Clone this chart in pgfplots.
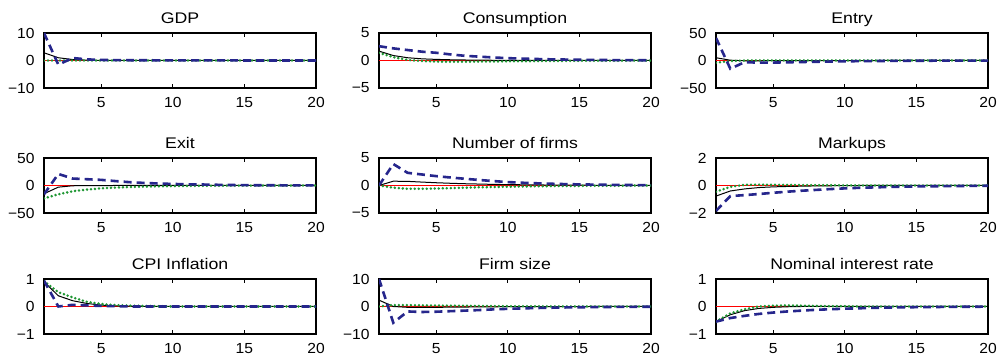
\documentclass[border=0pt]{standalone}
\usepackage{fontspec}
\setmainfont{Liberation Sans}
\newfontfamily\titlefont[FakeStretch=1.15]{Liberation Sans}
\newfontfamily\tickfont[FakeStretch=1.07]{Liberation Sans}
\usepackage{pgfplots}
\usepackage{pgfplotstable}
\pgfplotsset{compat=1.18}
\definecolor{mred}{RGB}{255,0,0}
\definecolor{mgreen}{RGB}{30,150,50}
\definecolor{mblue}{RGB}{38,38,140}

\pgfplotstableread{
x r k g b
1 0 2.8 0 10
2 0 1.0 0 -1.5
3 0 0.35 0 0.9
4 0 0.12 0 0.4
5 0 0.05 0 0.2
6 0 0.02 0 0.15
7 0 0.01 0 0.1
8 0 0 0 0.08
9 0 0 0 0.06
10 0 0 0 0.05
11 0 0 0 0.04
12 0 0 0 0.03
13 0 0 0 0.02
14 0 0 0 0.02
15 0 0 0 0.01
16 0 0 0 0.01
17 0 0 0 0
18 0 0 0 0
19 0 0 0 0
20 0 0 0 0
}\tGDP

\pgfplotstableread{
x r k g b
1 0 1.7 1.4 2.6
2 0 0.9 0.6 2.2
3 0 0.5 0.1 1.9
4 0 0.3 -0.1 1.6
5 0 0.2 -0.2 1.4
6 0 0.13 -0.22 1.1
7 0 0.09 -0.22 0.85
8 0 0.06 -0.2 0.7
9 0 0.04 -0.18 0.55
10 0 0.03 -0.15 0.42
11 0 0.02 -0.13 0.34
12 0 0.01 -0.11 0.27
13 0 0.01 -0.09 0.21
14 0 0 -0.07 0.17
15 0 0 -0.06 0.13
16 0 0 -0.05 0.1
17 0 0 -0.04 0.08
18 0 0 -0.03 0.06
19 0 0 -0.02 0.05
20 0 0 -0.02 0.04
}\tCons

\pgfplotstableread{
x r k g b
1 0 5 -4 41
2 0 0.5 -1 -15
3 0 -0.5 0 -3
4 0 -0.5 0.2 -4
5 0 -0.4 0.2 -3.8
6 0 -0.3 0.2 -3.3
7 0 -0.2 0.1 -2.8
8 0 -0.15 0.1 -2.3
9 0 -0.1 0.1 -1.9
10 0 -0.08 0 -1.5
11 0 -0.05 0 -1.2
12 0 -0.03 0 -1.0
13 0 -0.02 0 -0.8
14 0 0 0 -0.6
15 0 0 0 -0.5
16 0 0 0 -0.4
17 0 0 0 -0.3
18 0 0 0 -0.25
19 0 0 0 -0.2
20 0 0 0 -0.15
}\tEntry

\pgfplotstableread{
x r k g b
1 0 -15 -23.4 -16
2 0 -3 -16 21
3 0 -0.5 -10.5 12.6
4 0 -0.2 -7.5 11.4
5 0 -0.1 -5.2 10.2
6 0 0 -3.8 8
7 0 0 -2.8 6
8 0 0 -2 4.6
9 0 0 -1.5 3.6
10 0 0 -1.1 2.8
11 0 0 -0.8 2.2
12 0 0 -0.6 1.8
13 0 0 -0.4 1.3
14 0 0 -0.3 0.9
15 0 0 -0.2 0.6
16 0 0 -0.15 0.5
17 0 0 -0.1 0.4
18 0 0 -0.08 0.3
19 0 0 -0.05 0.2
20 0 0 -0.04 0.15
}\tExit

\pgfplotstableread{
x r k g b
1 0 0 0 0
2 0 0.78 -0.4 3.9
3 0 0.75 -0.6 2.3
4 0 0.62 -0.6 2.0
5 0 0.5 -0.55 1.7
6 0 0.4 -0.48 1.45
7 0 0.32 -0.4 1.22
8 0 0.26 -0.33 1.0
9 0 0.2 -0.27 0.8
10 0 0.16 -0.22 0.62
11 0 0.13 -0.18 0.5
12 0 0.1 -0.14 0.4
13 0 0.08 -0.11 0.32
14 0 0.06 -0.09 0.25
15 0 0.05 -0.07 0.2
16 0 0.04 -0.05 0.16
17 0 0.03 -0.04 0.13
18 0 0.02 -0.03 0.1
19 0 0.02 -0.02 0.08
20 0 0.01 -0.02 0.06
}\tFirms

\pgfplotstableread{
x r k g b
1 0 -0.77 -0.45 -1.85
2 0 -0.4 -0.1 -0.77
3 0 -0.25 0.05 -0.7
4 0 -0.15 0.06 -0.62
5 0 -0.1 0.05 -0.53
6 0 -0.07 0.04 -0.45
7 0 -0.05 0.03 -0.38
8 0 -0.03 0.02 -0.32
9 0 -0.02 0.02 -0.26
10 0 -0.01 0.01 -0.21
11 0 0 0 -0.17
12 0 0 0 -0.14
13 0 0 0 -0.11
14 0 0 0 -0.09
15 0 0 0 -0.07
16 0 0 0 -0.06
17 0 0 0 -0.05
18 0 0 0 -0.04
19 0 0 0 -0.03
20 0 0 0 -0.02
}\tMark

\pgfplotstableread{
x r k g b
1 0 0.9 0.92 0.94
2 0 0.39 0.52 0.0
3 0 0.21 0.33 0.06
4 0 0.11 0.17 0.04
5 0 0.05 0.09 0.02
6 0 0.02 0.05 0.01
7 0 0.01 0.03 0
8 0 0 0.02 0
9 0 0 0.01 0
10 0 0 0 0
11 0 0 0 0
12 0 0 0 0
13 0 0 0 0
14 0 0 0 0
15 0 0 0 0
16 0 0 0 0
17 0 0 0 0
18 0 0 0 0
19 0 0 0 0
20 0 0 0 0
}\tCPI

\pgfplotstableread{
x r k g b
1 0 2.3 0 10
2 0 0 0.5 -5.9
3 0 -0.3 0.5 -1.8
4 0 -0.3 0.4 -2.0
5 0 -0.3 0.35 -1.9
6 0 -0.25 0.3 -1.7
7 0 -0.2 0.25 -1.5
8 0 -0.15 0.2 -1.3
9 0 -0.1 0.15 -1.05
10 0 -0.08 0.1 -0.85
11 0 -0.06 0.08 -0.7
12 0 -0.04 0.06 -0.55
13 0 -0.03 0.04 -0.45
14 0 -0.02 0.03 -0.35
15 0 -0.01 0.02 -0.28
16 0 0 0.01 -0.22
17 0 0 0.01 -0.18
18 0 0 0 -0.14
19 0 0 0 -0.11
20 0 0 0 -0.09
}\tSize

\pgfplotstableread{
x r k g b
1 0 -0.55 -0.55 -0.55
2 0 -0.3 -0.25 -0.42
3 0 -0.15 -0.1 -0.34
4 0 -0.07 0 -0.27
5 0 -0.03 0.03 -0.22
6 0 -0.01 0.04 -0.18
7 0 0 0.03 -0.15
8 0 0 0.02 -0.12
9 0 0 0.01 -0.1
10 0 0 0.01 -0.08
11 0 0 0 -0.065
12 0 0 0 -0.05
13 0 0 0 -0.04
14 0 0 0 -0.03
15 0 0 0 -0.025
16 0 0 0 -0.02
17 0 0 0 -0.015
18 0 0 0 -0.01
19 0 0 0 -0.01
20 0 0 0 -0.005
}\tNom

\pgfplotsset{
  every axis title/.style={at={(0.5,1)}, anchor=base, yshift=4.5pt, inner sep=0pt,
    font=\titlefont\fontsize{7.7}{9}\selectfont},
  irf/.style={
    scale only axis, width=136pt, height=27.5pt,
    xmin=1, xmax=20, xtick={5,10,15,20}, xticklabels={5,10,15,20},
    tick align=inside, major tick length=2pt,
    tick style={line width=0.4pt, black},
    axis line style={line width=0.6pt},
    every tick label/.append style={font=\tickfont\fontsize{7.3}{8.5}\selectfont},
    xticklabel style={inner sep=0pt, yshift=-4.6pt},
    yticklabel style={inner sep=0pt, xshift=-4.5pt},
    every axis plot/.append style={mark=none},
    clip=true,
  },
  sred/.style={color=mred, line width=0.5pt},
  sblk/.style={color=black, line width=0.5pt},
  sgrn/.style={color=mgreen, line width=1.4pt, line cap=round, dash pattern=on 0pt off 2pt},
  sblu/.style={color=mblue, line width=1.3pt, dash pattern=on 4pt off 2.5pt},
}
\newcommand{\four}[1]{%
  \addplot[sred] table[x=x,y=r]{#1};
  \addplot[sblk] table[x=x,y=k]{#1};
  \addplot[sgrn] table[x=x,y=g]{#1};
  \addplot[sblu] table[x=x,y=b]{#1};
}

\begin{document}
\begin{tikzpicture}
\useasboundingbox (0,0) rectangle (500pt,178pt);
% row 1
\begin{axis}[irf, at={(22pt,134pt)}, anchor=south west, title={GDP},
  ymin=-10, ymax=10, ytick={-10,0,10}, yticklabels={−10,0,10}]
\four{\tGDP}
\end{axis}
\begin{axis}[irf, at={(189.5pt,134pt)}, anchor=south west, title={Consumption},
  ymin=-5, ymax=5, ytick={-5,0,5}, yticklabels={−5,0,5}]
\four{\tCons}
\end{axis}
\begin{axis}[irf, at={(358pt,134pt)}, anchor=south west, title={Entry},
  ymin=-50, ymax=50, ytick={-50,0,50}, yticklabels={−50,0,50}]
\four{\tEntry}
\end{axis}
% row 2
\begin{axis}[irf, at={(22pt,71.5pt)}, anchor=south west, title={Exit},
  ymin=-50, ymax=50, ytick={-50,0,50}, yticklabels={−50,0,50}]
\four{\tExit}
\end{axis}
\begin{axis}[irf, at={(189.5pt,71.5pt)}, anchor=south west, title={Number of firms},
  ymin=-5, ymax=5, ytick={-5,0,5}, yticklabels={−5,0,5}]
\four{\tFirms}
\end{axis}
\begin{axis}[irf, at={(358pt,71.5pt)}, anchor=south west, title={Markups},
  ymin=-2, ymax=2, ytick={-2,0,2}, yticklabels={−2,0,2}]
\four{\tMark}
\end{axis}
% row 3
\begin{axis}[irf, at={(22pt,11pt)}, anchor=south west, title={CPI Inflation},
  ymin=-1, ymax=1, ytick={-1,0,1}, yticklabels={−1,0,1}]
\four{\tCPI}
\end{axis}
\begin{axis}[irf, at={(189.5pt,11pt)}, anchor=south west, title={Firm size},
  ymin=-10, ymax=10, ytick={-10,0,10}, yticklabels={−10,0,10}]
\four{\tSize}
\end{axis}
\begin{axis}[irf, at={(358pt,11pt)}, anchor=south west, title={Nominal interest rate},
  ymin=-1, ymax=1, ytick={-1,0,1}, yticklabels={−1,0,1}]
\four{\tNom}
\end{axis}
\end{tikzpicture}
\end{document}
